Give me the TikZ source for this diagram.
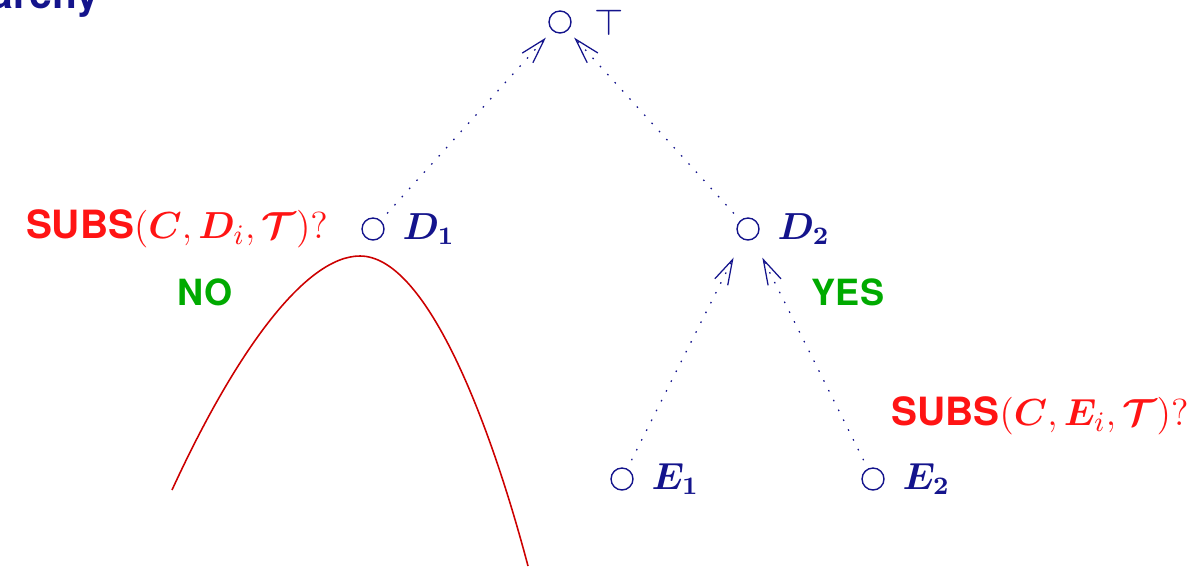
\documentclass[tikz,border=0pt]{standalone}
\usepackage{amsmath,bm}
\usepackage{fontspec}
\setsansfont{TeX Gyre Heros}
\usetikzlibrary{arrows.meta, positioning}
\definecolor{hnavy}{HTML}{14148C}
\definecolor{hred}{HTML}{FF1414}
\definecolor{hcurve}{HTML}{CC0000}
\definecolor{hgreen}{HTML}{00AA00}

\begin{document}
\begin{tikzpicture}[x=0.0112cm, y=-0.0112cm,
    concept/.style={circle, draw=hnavy, line width=0.45pt, minimum size=7pt,
                    inner sep=0pt, outer sep=3.2pt},
    cname/.style={text=hnavy, font=\fontsize{11.7}{14}\selectfont, inner sep=1pt},
    query/.style={text=hred, font=\fontsize{12.4}{15}\selectfont, inner sep=1pt},
    verdict/.style={text=hgreen, font=\fontsize{11.5}{14}\selectfont\sffamily\bfseries},
    isa/.style={-{Straight Barb[length=8pt, width=4.6pt]}, hnavy, line width=0.4pt,
                dash pattern=on 0.5pt off 3pt}
  ]
    \useasboundingbox (0,0) rectangle (1203,566);

    % title, cut by the frame
    \node[anchor=base east, text=hnavy, font=\fontsize{13}{15}\selectfont\sffamily\bfseries]
      (title) at (110,9) {archy};

    % concept tree
    \node[concept] (top) at (560,22) {};
    \node[concept] (d1) at (373,229) {};
    \node[concept] (d2) at (748,229) {};
    \node[concept] (e1) at (622,479) {};
    \node[concept] (e2) at (873,479) {};

    \node[cname, right=3pt of top] (topname) {$\top$};
    \node[cname, right=1.5pt of d1] (d1name) {$\bm{D_1}$};
    \node[cname, right=1.5pt of d2] (d2name) {$\bm{D_2}$};
    \node[cname, right=1.5pt of e1] (e1name) {$\bm{E_1}$};
    \node[cname, right=1.5pt of e2] (e2name) {$\bm{E_2}$};

    \node[query, left=6.5pt of d1] (qd)
      {\textsf{\bfseries SUBS}$(\bm{C}, \bm{D}_i, \bm{\mathcal{T}})?$};
    \node[query] (qe) at (1040,416)
      {\textsf{\bfseries SUBS}$(\bm{C}, \bm{E}_i, \bm{\mathcal{T}})?$};

    \node[verdict] (no) at (205,292) {NO};
    \node[verdict] (yes) at (848,292) {YES};

    \draw[isa] (d1) -- (top);
    \draw[isa] (d2) -- (top);
    \draw[isa, shorten >=3.5pt] (e1) -- (d2);
    \draw[isa, shorten >=3.5pt] (e2) -- (d2);

    % pruned subtree below D1
    \draw[hcurve, line width=0.5pt] (172,490) .. controls (235,353) and (305,256) .. (360,256)
      .. controls (425,256) and (488,415) .. (528,566);
  \end{tikzpicture}
\end{document}
